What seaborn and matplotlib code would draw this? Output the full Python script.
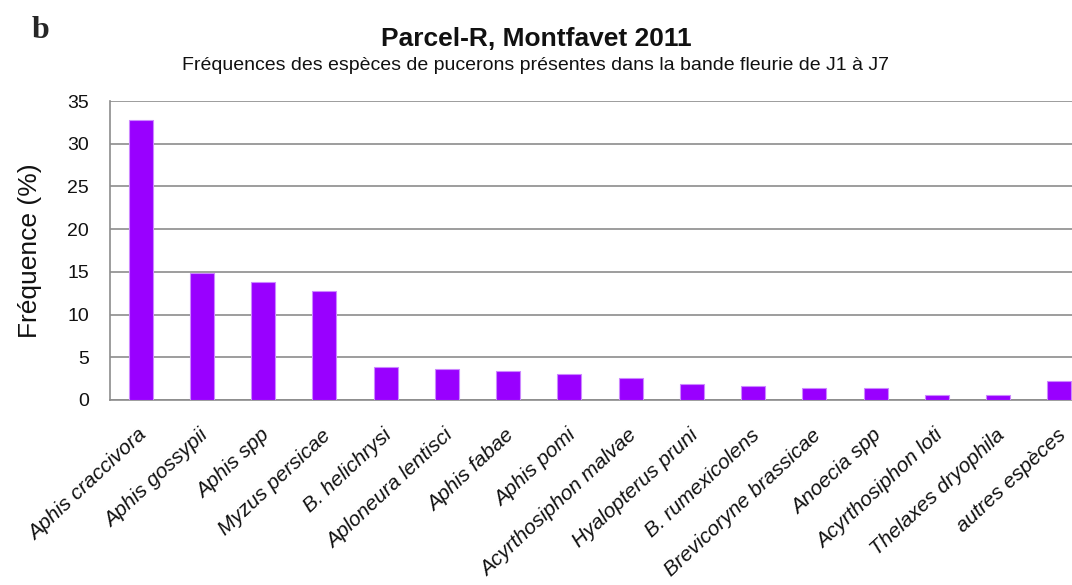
import numpy as np
import pandas as pd
import seaborn as sns
import matplotlib.pyplot as plt
import matplotlib.transforms as mtransforms

# données
especes = ["Aphis craccivora", "Aphis gossypii", "Aphis spp", "Myzus persicae",
           "B. helichrysi", "Aploneura lentisci", "Aphis fabae", "Aphis pomi",
           "Acyrthosiphon malvae", "Hyalopterus pruni", "B. rumexicolens",
           "Brevicoryne brassicae", "Anoecia spp", "Acyrthosiphon loti",
           "Thelaxes dryophila", "autres espèces"]
frequences = [32.8, 14.85, 13.85, 12.75, 3.9, 3.65, 3.4, 3.05,
              2.55, 1.9, 1.65, 1.4, 1.4, 0.55, 0.55, 2.25]
y_ticks = [0, 5, 10, 15, 20, 25, 30, 35]

df = pd.DataFrame({"espece": especes, "freq": frequences})

sns.set_style("white")
plt.rcParams["font.family"] = ["Liberation Sans", "DejaVu Sans"]

fig = plt.figure(figsize=(10.72, 5.85), dpi=100)
# l'axe dépasse à droite comme dans l'original (coupé)
ax = fig.add_axes([110 / 1072, 1 - 400 / 585, 980 / 1072, 299 / 585])

sns.barplot(data=df, x="espece", y="freq", color="#9900ff", width=0.39,
            saturation=1, edgecolor="#cc88ff", linewidth=0.8, ax=ax, zorder=3)

ax.set_ylim(0, 35)
ax.set_xlim(-0.5, len(especes) - 0.5)
ax.set_yticks(y_ticks)
ax.yaxis.grid(True, color="#8c8c8c", linewidth=1.2, zorder=0)
ax.set_axisbelow(True)
for s in ["top", "right"]:
    ax.spines[s].set_visible(False)
for s in ["left", "bottom"]:
    ax.spines[s].set_color("#8c8c8c")
    ax.spines[s].set_linewidth(1.2)
ax.tick_params(axis="y", left=False, length=0, labelsize=14, pad=15,
               labelcolor="#111111")
ax.tick_params(axis="x", bottom=False, labelsize=15, pad=15, labelcolor="#111111")
ax.set_xticks(range(len(especes)))
ax.set_xticklabels(especes, rotation=43, ha="right", rotation_mode="anchor",
                   style="italic")
decal = mtransforms.ScaledTranslation(-3 / 100, 0, fig.dpi_scale_trans)
for lab in ax.get_xticklabels():
    lab.set_transform(lab.get_transform() + decal)
ax.set_xlabel("")
ax.set_ylabel("Fréquence (%)", fontsize=19, labelpad=18, color="#111111")

fig.text(0.5, 1 - 39 / 585, "Parcel-R, Montfavet 2011", ha="center", va="center",
         fontsize=19, fontweight="bold", color="#111111")
fig.text(0.5, 1 - 65 / 585,
         "Fréquences des espèces de pucerons présentes dans la bande fleurie de J1 à J7",
         ha="center", va="center", fontsize=14, color="#111111")
fig.text(32 / 1072, 1 - 30 / 585, "b", ha="left", va="center", fontsize=23,
         fontweight="bold", family=["Liberation Serif", "DejaVu Serif"])

fig.savefig("out.png", dpi=100)
